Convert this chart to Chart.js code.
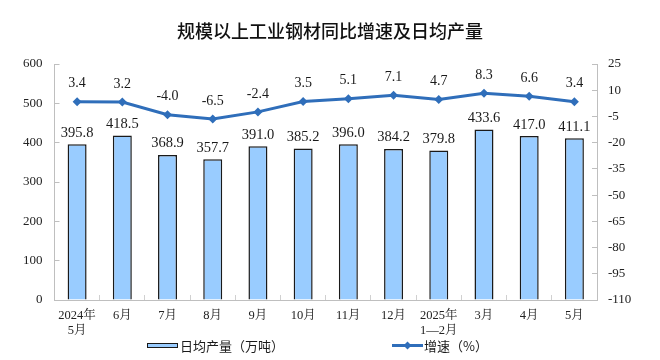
<!DOCTYPE html>
<html><head><meta charset="utf-8">
<script src="https://cdn.jsdelivr.net/npm/chart.js@4/dist/chart.umd.min.js"></script>
<style>html,body{margin:0;padding:0;background:#fff}#wrap{width:660px;height:360px}</style>
</head><body><div id="wrap"><canvas id="c" width="660" height="360"></canvas></div>
<script>
const categories = [["2024年","5月"],"6月","7月","8月","9月","10月","11月","12月",["2025年","1—2月"],"3月","4月","5月"];
const dailyOutput = [395.8,418.5,368.9,357.7,391.0,385.2,396.0,384.2,379.8,433.6,417.0,411.1];
const growthRate = [3.4,3.2,-4.0,-6.5,-2.4,3.5,5.1,7.1,4.7,8.3,6.6,3.4];
const leftTicks = [0,100,200,300,400,500,600];
const rightTicks = [25,10,-5,-20,-35,-50,-65,-80,-95,-110];
const titleText = "规模以上工业钢材同比增速及日均产量";
const legendBar = "日均产量（万吨）";
const legendLine = "增速（%）";

const SERIF = "'Times New Roman','Liberation Serif','Noto Serif CJK SC','Noto Sans CJK SC',serif";
const CJK = "'Noto Sans CJK SC',sans-serif";
const LINE_COLOR = "#2F6EBA";

const extras = {
  id: 'extras',
  afterDatasetsDraw(chart) {
    const ctx = chart.ctx;
    ctx.save();
    ctx.fillStyle = '#1a1a1a';
    ctx.textAlign = 'center';
    ctx.textBaseline = 'bottom';
    ctx.font = "14.5px " + SERIF;
    chart.getDatasetMeta(0).data.forEach((el, i) => {
      ctx.fillText(dailyOutput[i].toFixed(1), el.x, el.y - 4);
    });
    ctx.font = "14px " + SERIF;
    chart.getDatasetMeta(1).data.forEach((el, i) => {
      ctx.fillText(growthRate[i].toFixed(1), el.x, el.y - 11);
    });
    ctx.restore();
  },
  afterDraw(chart) {
    const ctx = chart.ctx;
    ctx.save();
    ctx.fillStyle = '#111';
    ctx.textBaseline = 'middle';
    ctx.textAlign = 'center';
    ctx.font = "500 18px " + CJK;
    ctx.fillText(titleText, 330, 31);
    ctx.restore();
    ctx.save();
    ctx.fillStyle = '#99CCFF';
    ctx.strokeStyle = '#1a1a1a';
    ctx.lineWidth = 1;
    ctx.fillRect(147, 343, 31, 5);
    ctx.strokeRect(147.5, 343.5, 30, 4);
    ctx.fillStyle = '#1a1a1a';
    ctx.textBaseline = 'middle';
    ctx.textAlign = 'left';
    ctx.font = "13px " + CJK;
    ctx.fillText(legendBar, 180, 346);
    ctx.strokeStyle = LINE_COLOR;
    ctx.lineWidth = 3;
    ctx.beginPath(); ctx.moveTo(392, 345.5); ctx.lineTo(423, 345.5); ctx.stroke();
    ctx.fillStyle = LINE_COLOR;
    ctx.beginPath(); ctx.moveTo(407.5, 341.5); ctx.lineTo(411.5, 345.5); ctx.lineTo(407.5, 349.5); ctx.lineTo(403.5, 345.5); ctx.closePath(); ctx.fill();
    ctx.fillStyle = '#1a1a1a';
    ctx.fillText(legendLine, 424, 346);
    ctx.restore();
  }
};

new Chart(document.getElementById('c'), {
  data: {
    labels: categories,
    datasets: [
      { type: 'bar', label: legendBar, data: dailyOutput, yAxisID: 'y',
        backgroundColor: '#99CCFF', borderColor: '#1a1a1a', borderWidth: 1.5,
        barPercentage: 0.42, categoryPercentage: 1.0, order: 2 },
      { type: 'line', label: legendLine, data: growthRate, yAxisID: 'y1',
        borderColor: LINE_COLOR, backgroundColor: LINE_COLOR, borderWidth: 3,
        pointStyle: 'rectRot', pointRadius: 4.5, pointBorderWidth: 0, tension: 0, order: 1 }
    ]
  },
  options: {
    responsive: false, animation: false,
    layout: { padding: { top: 64, bottom: 20, left: 0, right: 0 } },
    plugins: { legend: { display: false }, title: { display: false }, tooltip: { enabled: false } },
    scales: {
      x: {
        offset: true,
        grid: { display: true, drawOnChartArea: false, drawTicks: true, tickLength: -5, color: '#d0d0d0', offset: true },
        border: { color: '#bfbfbf' },
        ticks: { color: '#222', font: { family: SERIF, size: 12.5 }, padding: 13, maxRotation: 0, autoSkip: false },
        afterFit(s) { s.height = 40; }
      },
      y: {
        position: 'left', min: 0, max: 600,
        afterBuildTicks(s) { s.ticks = leftTicks.map(v => ({ value: v })); },
        grid: { display: true, drawOnChartArea: false, tickLength: -5, color: '#bfbfbf' },
        border: { color: '#bfbfbf' },
        ticks: { color: '#222', font: { family: SERIF, size: 13 }, padding: 17 },
        afterFit(s) { s.width = 54.5; }
      },
      y1: {
        position: 'right', min: -110, max: 25,
        afterBuildTicks(s) { s.ticks = rightTicks.map(v => ({ value: v })); },
        grid: { display: true, drawOnChartArea: false, tickLength: -5, color: '#bfbfbf' },
        border: { color: '#bfbfbf' },
        ticks: { color: '#222', font: { family: SERIF, size: 13 }, padding: 16 },
        afterFit(s) { s.width = 63; }
      }
    }
  },
  plugins: [extras]
});
</script></body></html>
